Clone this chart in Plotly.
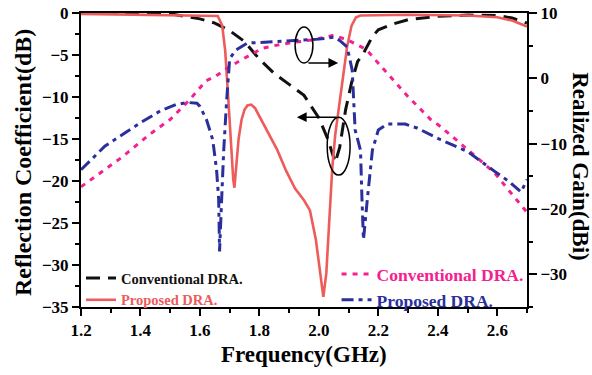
import plotly.graph_objects as go

# ---------------- data ----------------
# Reflection coefficient (left axis, dB)
f_conv_s11 = [1.2, 1.5, 1.6, 1.65, 1.7, 1.75, 1.8, 1.85, 1.9, 1.95, 2.0, 2.03, 2.055,
              2.07, 2.09, 2.11, 2.13, 2.15, 2.18, 2.2, 2.25, 2.3, 2.4, 2.5, 2.6, 2.65, 2.7]
s11_conv = [0.0, -0.1, -0.7, -1.2, -2.1, -3.4, -5.5, -7.2, -8.5, -9.8, -12.5, -15.0, -17.8,
            -16.0, -11.5, -8.3, -5.8, -4.8, -2.8, -2.0, -1.3, -0.8, -0.4, -0.25, -0.3, -0.6, -1.2]

f_prop_s11 = [1.2, 1.4, 1.6, 1.66, 1.675, 1.685, 1.695, 1.705, 1.712, 1.716, 1.722, 1.73, 1.74,
              1.75, 1.76, 1.772, 1.785, 1.80, 1.83, 1.86, 1.89, 1.92, 1.95, 1.97, 1.99, 2.005,
              2.015, 2.025, 2.035, 2.045, 2.055, 2.065, 2.075, 2.085, 2.095, 2.11, 2.125, 2.14,
              2.3, 2.5, 2.6, 2.65, 2.7]
s11_prop = [-0.1, -0.2, -0.25, -0.35, -1.5, -4.5, -10.0, -16.0, -19.8, -20.8, -18.5, -15.0, -12.7,
            -11.5, -11.0, -10.9, -11.3, -12.3, -14.2, -16.3, -18.8, -20.9, -22.3, -23.5, -27.0, -31.5,
            -33.8, -31.0, -24.5, -18.5, -14.5, -12.0, -9.5, -6.5, -4.0, -1.5, -0.5, -0.3,
            -0.2, -0.3, -0.5, -0.9, -1.6]

# Realized gain (right axis, dBi)
f_conv_gain = [1.2, 1.25, 1.34, 1.43, 1.50, 1.565, 1.62, 1.655, 1.70, 1.77, 1.81, 1.85, 1.90,
               1.98, 2.05, 2.10, 2.16, 2.20, 2.24, 2.30, 2.376, 2.41, 2.5, 2.59, 2.636, 2.70]
gain_conv = [-16.6, -15.0, -12.0, -8.6, -6.3, -3.3, -0.4, 0.4, 1.8, 3.6, 4.6, 5.0, 5.4,
             5.9, 6.6, 5.8, 4.4, 2.3, 0.2, -2.8, -6.3, -7.4, -10.9, -14.4, -17.0, -20.5]

f_prop_gain = [1.2, 1.28, 1.35, 1.40, 1.47, 1.52, 1.56, 1.59, 1.60, 1.622, 1.643, 1.656, 1.663,
               1.666, 1.673, 1.68, 1.69, 1.70, 1.72, 1.76, 1.85, 1.95, 2.0, 2.05, 2.07, 2.095,
               2.112, 2.122, 2.14, 2.145, 2.15, 2.163, 2.18, 2.2, 2.23, 2.29, 2.33, 2.41, 2.5,
               2.59, 2.64, 2.68, 2.70]
gain_prop = [-14.0, -10.4, -8.3, -6.8, -4.9, -4.0, -3.7, -3.8, -4.3, -6.3, -9.4, -14.0, -18.5,
             -26.5, -18.5, -11.0, -3.3, 3.0, 4.3, 5.4, 5.6, 5.8, 6.0, 6.3, 5.8, 4.8,
             1.3, -7.9, -11.0, -18.5, -24.7, -18.5, -11.0, -7.9, -7.0, -7.0, -7.6, -9.4, -11.2,
             -14.2, -15.8, -17.4, -15.5]

x_ticks = [1.2, 1.4, 1.6, 1.8, 2.0, 2.2, 2.4, 2.6]
y_left_ticks = [0, -5, -10, -15, -20, -25, -30, -35]
y_right_ticks = [10, 0, -10, -20, -30]

BLACK = "#111111"
RED = "#EE5B5B"
PINK = "#F5208F"
BLUE = "#2A2F9C"
FONT = "Liberation Serif"

fig = go.Figure()
fig.add_trace(go.Scatter(
    x=f_conv_s11, y=s11_conv, mode="lines", yaxis="y",
    line=dict(color=BLACK, width=3, dash="14px,8px"),
    name='<span style="color:#111111">Conventional DRA.</span>', legend="legend"))
fig.add_trace(go.Scatter(
    x=f_prop_s11, y=s11_prop, mode="lines", yaxis="y",
    line=dict(color=RED, width=2.6),
    name='<span style="color:#EE5B5B">Proposed DRA.</span>', legend="legend"))
fig.add_trace(go.Scatter(
    x=f_conv_gain, y=gain_conv, mode="lines", yaxis="y2",
    line=dict(color=PINK, width=3, dash="5px,6px"),
    name='<span style="color:#F5208F">Conventional DRA.</span>', legend="legend2"))
fig.add_trace(go.Scatter(
    x=f_prop_gain, y=gain_prop, mode="lines", yaxis="y2",
    line=dict(color=BLUE, width=3, dash="12px,5px,4px,5px"),
    name='<span style="color:#2A2F9C">Proposed DRA.</span>', legend="legend2"))

axis_common = dict(showline=True, linecolor="black", linewidth=2, showgrid=False,
                   zeroline=False, ticks="outside", tickwidth=2, tickcolor="black",
                   automargin=False,
                   tickfont=dict(family=FONT, size=17, color="black", weight="bold"))

fig.update_layout(
    width=592, height=375,
    margin=dict(l=81, r=65, t=13, b=68),
    paper_bgcolor="white", plot_bgcolor="white",
    font=dict(family=FONT, color="black", weight="bold"),
    showlegend=True,
    xaxis=dict(range=[1.2, 2.7], tickvals=x_ticks, ticktext=[f"{v:.1f}" for v in x_ticks],
               ticklen=7, mirror=True,
               minor=dict(dtick=0.1, tick0=1.2, ticks="outside", ticklen=4, tickwidth=1.5,
                          tickcolor="black"),
               **axis_common),
    yaxis=dict(range=[-35, 0], tickvals=y_left_ticks, ticklen=7,
               minor=dict(dtick=2.5, tick0=0, ticks="outside", ticklen=4, tickwidth=1.5,
                          tickcolor="black"),
               **axis_common),
    yaxis2=dict(range=[-35, 10], tickvals=y_right_ticks, ticklen=8, overlaying="y",
                side="right",
                minor=dict(dtick=5, tick0=0, ticks="outside", ticklen=4, tickwidth=1.5,
                           tickcolor="black"),
                **axis_common),
    legend=dict(x=0.0, y=0.153, xanchor="left", yanchor="top", bgcolor="rgba(0,0,0,0)",
                font=dict(family=FONT, size=14.5, weight="bold"), tracegroupgap=0),
    legend2=dict(x=0.573, y=0.173, xanchor="left", yanchor="top", bgcolor="rgba(0,0,0,0)",
                 font=dict(family=FONT, size=17.5, weight="bold"), tracegroupgap=0),
)

title_font = dict(family=FONT, size=23, color="black", weight="bold")
fig.add_annotation(text="Frequency(GHz)", xref="paper", yref="paper", x=0.5, y=-0.163,
                   xanchor="center", yanchor="middle", showarrow=False, font=title_font)
fig.add_annotation(text="Reflection Coefficient(dB)", xref="paper", yref="paper", x=-0.13,
                   y=0.49, xanchor="center", yanchor="middle", textangle=-90,
                   showarrow=False, font=dict(family=FONT, size=24, color="black", weight="bold"))
fig.add_annotation(text="Realized Gain(dBi)", xref="paper", yref="paper", x=1.118, y=0.48,
                   xanchor="center", yanchor="middle", textangle=90,
                   showarrow=False, font=title_font)

# ellipses and arrows indicating the axes
fig.add_shape(type="circle", xref="x", yref="y", x0=1.92, x1=1.98, y0=-5.95, y1=-1.67,
              line=dict(color="black", width=1.5))
fig.add_shape(type="circle", xref="x", yref="y", x0=2.028, x1=2.105, y0=-19.3, y1=-12.4,
              line=dict(color="black", width=1.5))
fig.add_annotation(x=2.065, y=-5.95, ax=1.96, ay=-5.95, xref="x", yref="y", axref="x",
                   ayref="y", text="", showarrow=True, arrowhead=2, arrowsize=1.3,
                   arrowwidth=1.5, arrowcolor="black")
fig.add_annotation(x=1.926, y=-12.4, ax=2.065, ay=-12.4, xref="x", yref="y", axref="x",
                   ayref="y", text="", showarrow=True, arrowhead=2, arrowsize=1.3,
                   arrowwidth=1.5, arrowcolor="black")

fig.write_html("out.html")
